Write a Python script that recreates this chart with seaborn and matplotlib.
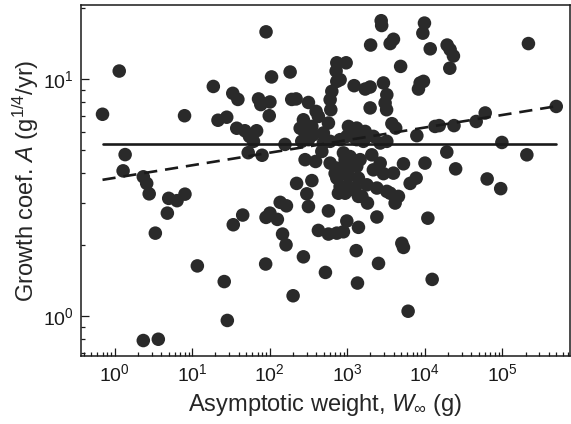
import numpy as np
import pandas as pd
import matplotlib
matplotlib.use('Agg')
import matplotlib.pyplot as plt
import matplotlib.ticker as mticker
import seaborn as sns

# asymptotic weight W_inf (g) and growth coefficient A (g^1/4/yr)
weight_g = [
    0.70, 1.15, 1.37, 1.29, 2.35, 2.6, 2.8, 5.0, 6.4, 8.1, 4.8, 3.36, 11.7, 26, 28.5, 2.35, 3.67, 8.0, 18.8, 21.6, 28,
    33.5, 39, 37.7, 48, 68, 55, 62, 53, 80, 72, 77, 101, 99, 90, 106, 184, 193, 220, 317, 158,
    45, 34, 90, 101, 126, 137, 165, 147, 163, 89, 201, 223, 351, 302, 317, 574, 273,
    273, 351, 248, 287, 367, 494, 574, 398, 426, 260, 317, 494, 604, 812, 287, 392, 472, 604, 736, 736,
    971, 721, 736, 635, 604, 616, 426, 574, 736, 525, 736, 812, 772,
    991, 1040, 1270, 1330, 1710, 1330, 1620, 2180, 2670, 3250, 942, 896, 1150, 896, 1090, 1470, 1330, 2080, 2670, 2180,
    2940, 3960, 1040, 942, 1270, 1400, 1400, 1800, 2420, 3250, 4590, 4160, 991, 1200, 1550, 1830, 991, 896, 1400, 2420,
    1310, 2540, 1360, 5080, 5330,
    812, 1230, 1710, 1980, 2940, 3250, 3090, 3230, 1980, 3780, 4230, 2750, 2790, 2010, 3590, 3960, 4900, 3590, 5330,
    6500, 7770, 11000, 12500, 6120, 10100, 7930, 19300, 25100, 9940, 9480, 11800, 19500, 21300, 23500, 21100,
    8750, 9650, 8320, 13600, 15400, 23900, 46200, 60400, 498000, 99100, 208000, 64000, 95700, 218000, 700,
]
growth_A = [
    7.1, 10.8, 4.8, 4.1, 3.87, 3.63, 3.28, 3.14, 3.07, 3.27, 2.72, 2.24, 1.63, 1.40, 0.96, 0.79, 0.80, 7.0, 9.3, 6.7, 6.9,
    8.7, 8.2, 6.2, 6.05, 6.05, 5.73, 5.46, 4.89, 4.77, 8.24, 7.8, 8.0, 7.0, 15.8, 10.2, 10.7, 8.2, 8.24, 7.96, 5.3,
    2.67, 2.43, 2.61, 2.72, 2.56, 3.02, 2.92, 2.22, 2.0, 1.66, 1.22, 3.63, 3.73, 3.28, 2.90, 2.78, 1.78,
    6.73, 6.31, 6.2, 5.92, 5.82, 5.92, 6.52, 7.3, 6.95, 5.46, 5.55, 5.37, 5.46, 5.55, 4.57, 4.49, 4.95, 4.42, 4.21, 11.7,
    11.7, 10.8, 9.77, 8.87, 8.18, 7.42, 2.30, 2.22, 2.24, 1.53, 3.82, 3.52, 3.30,
    5.73, 6.31, 5.64, 6.21, 6.01, 5.55, 5.46, 5.73, 5.37, 5.46, 4.57, 4.14, 4.28, 4.88, 4.71, 4.57, 4.28, 4.79, 4.42, 4.14,
    3.99, 4.01, 3.88, 3.30, 3.47, 3.2, 3.82, 3.58, 3.47, 3.36, 3.2, 3.0, 3.52, 3.41, 3.2, 3.0, 2.52, 2.27, 2.37, 2.62,
    1.89, 1.67, 1.38, 2.03, 1.95,
    9.93, 9.37, 9.07, 9.25, 9.62, 8.58, 7.92, 7.42, 7.55, 6.48, 6.21, 17.6, 16.8, 13.9, 14.1, 14.7, 11.3, 3.30, 4.39,
    3.63, 3.82, 2.59, 1.43, 1.05, 4.42, 5.77, 4.92, 4.18, 17.2, 15.6, 13.4, 13.9, 13.3, 12.5, 11.1,
    9.62, 9.77, 9.07, 6.31, 6.36, 6.36, 6.62, 7.19, 7.66, 5.40, 4.79, 3.79, 3.45, 14.1, 4.0,
]

x_major = [1e0, 1e1, 1e2, 1e3, 1e4, 1e5]
y_major = [1e0, 1e1]

mean_A = 5.3          # horizontal line (mean growth coefficient)
fit_coef = 3.83       # dashed fit: A = fit_coef * W^fit_exp
fit_exp = 0.053

df = pd.DataFrame({'W': weight_g, 'A': growth_A})

sns.set_style('ticks')
plt.rcParams['font.family'] = ['Liberation Sans', 'DejaVu Sans']
plt.rcParams['mathtext.fontset'] = 'custom'
plt.rcParams['mathtext.rm'] = 'Liberation Sans'
plt.rcParams['mathtext.it'] = 'Liberation Sans:italic'
plt.rcParams['mathtext.bf'] = 'Liberation Sans:bold'

fig = plt.figure(figsize=(5.71, 4.24), dpi=100)
ax = fig.add_axes([0.1413, 0.1604, 0.857, 0.8278])

sns.scatterplot(data=df, x='W', y='A', ax=ax, s=95, color='#2a2a2a',
                edgecolor='none', linewidth=0, zorder=3)

w_lo, w_hi = df['W'].min(), df['W'].max()
ax.plot([w_lo, w_hi], [mean_A, mean_A], color='#1a1a1a', lw=1.9, zorder=4)
w_fit = np.geomspace(w_lo, w_hi, 50)
ax.plot(w_fit, fit_coef * w_fit ** fit_exp, color='#1a1a1a', lw=1.9,
        linestyle=(0, (5, 3)), zorder=4)

ax.set_xscale('log')
ax.set_yscale('log')
ax.set_xlim(0.366, 7.5e5)
ax.set_ylim(0.68, 20.5)
ax.xaxis.set_major_locator(mticker.FixedLocator(x_major))
ax.yaxis.set_major_locator(mticker.FixedLocator(y_major))
ax.xaxis.set_major_formatter(mticker.LogFormatterSciNotation())
ax.yaxis.set_major_formatter(mticker.LogFormatterSciNotation())
ax.xaxis.set_minor_formatter(mticker.NullFormatter())
ax.yaxis.set_minor_formatter(mticker.NullFormatter())

ax.tick_params(which='both', direction='in', top=False, right=False,
               colors='#1a1a1a', labelsize=14, width=0.9)
ax.tick_params(which='major', length=6, pad=5)
ax.tick_params(which='minor', length=3)
for sp in ax.spines.values():
    sp.set_linewidth(1.1)
    sp.set_color('#1a1a1a')

ax.set_xlabel(r'Asymptotic weight, $W_\infty$ (g)', fontsize=17, labelpad=5)
ax.set_ylabel(r'Growth coef. $A$ (g$^{1/4}$/yr)', fontsize=17, labelpad=1)

fig.savefig('out.png', dpi=100)
